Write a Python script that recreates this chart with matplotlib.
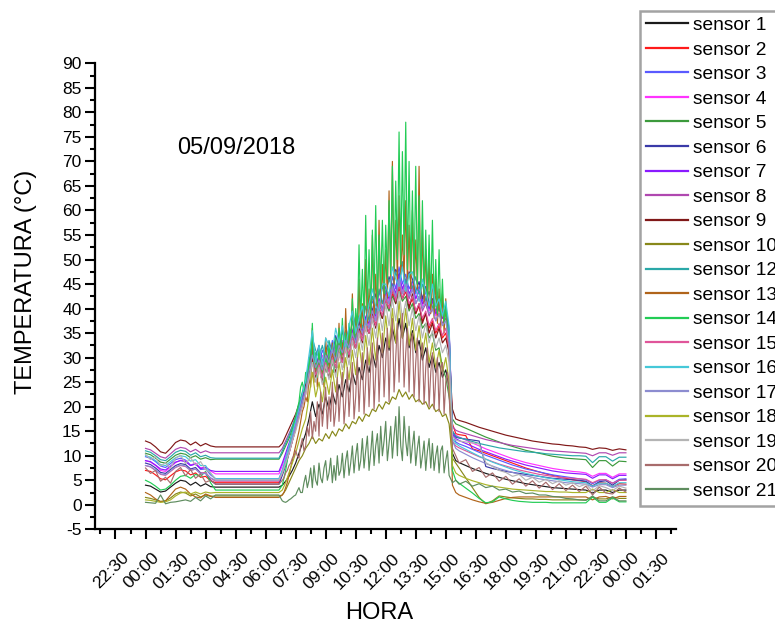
import sys
import matplotlib
matplotlib.use("Agg")
import matplotlib.pyplot as plt
import matplotlib.transforms as mtransforms
from matplotlib.ticker import FixedLocator, MultipleLocator

plt.rcParams['font.family'] = ['Liberation Sans', 'DejaVu Sans']
plt.rcParams['axes.unicode_minus'] = False


def hours(hhmm):
    h, m = hhmm.split(':')
    return int(h) + int(m) / 60.0


def grid(first, last, step_min):
    a = int(round(hours(first) * 60))
    b = int(round(hours(last) * 60))
    return [m / 60.0 for m in range(a, b + 1, step_min)]


# sampling times (hours after 00:00 on 05/09/2018); the logger was off 03:30-06:40
t_night = grid("00:00", "03:30", 15) + [hours("06:40")]
t_eve = [hours("15:20"), hours("15:30")] + grid("15:40", "24:00", 20)
t = t_night + grid("06:50", "15:10", 10) + t_eve          # most sensors
t_fine = t_night + grid("06:50", "15:10", 5) + t_eve      # fast-reacting sensors 13, 14, 20, 21

# temperatures (°C): night | 06:40 | daytime | 15:20-24:00
s1 = [4.0, 3.8, 3.2, 2.6, 2.8, 3.6, 4.4, 5.0, 4.8, 4.0, 4.6, 3.8, 4.3, 3.7, 3.6,
      3.6,
      4.0, 4.8, 5.8, 7.0, 8.5, 10.5, 12.5, 14.5, 17.5, 21,
      18, 20.5, 18.5, 22, 19.5, 23, 20.5, 24.5, 22, 25.5,
      23, 27, 24.5, 28, 25.5, 29.5, 27, 31, 28, 32.5,
      30, 34, 31.5, 36, 33, 38, 34, 37, 32, 35.5,
      31, 33.5, 29.5, 32, 28, 30.5, 27, 29, 26, 27.5,
      24,
      10.5, 9.0, 8.6, 8.0, 7.4, 6.9, 6.4, 6.0, 5.6, 5.2,
      4.9, 4.6, 4.3, 4.1, 3.9, 3.7, 3.5, 3.4, 3.3, 3.2,
      3.1, 3.0, 2.4, 3.0, 3.0, 2.5, 3.0, 3.0]
s2 = [7.0, 6.8, 6.1, 5.3, 5.1, 5.9, 6.7, 7.1, 6.9, 6.1, 6.5, 5.6, 5.8, 4.9, 4.5,
      4.5,
      6.5, 8.5, 10.5, 13, 15.5, 18, 20.5, 23.5, 26.5, 29.5,
      27, 28.5, 27, 29, 27.5, 30, 28, 30.5, 29.5, 31.5,
      30.5, 33, 32, 34.5, 33.5, 36, 35, 37.5, 37, 39.5,
      38, 41, 40, 43, 41.5, 44, 42, 43.5, 40.5, 42,
      39, 40.5, 37.5, 39, 36, 37.5, 35, 36.5, 34, 35,
      31.5,
      16.5, 14.5, 14.3, 14.1, 11.4, 11.0, 10.5, 10.0, 9.5, 9.0,
      8.5, 8.0, 7.5, 7.1, 6.7, 6.3, 6.0, 5.7, 5.4, 5.1,
      4.9, 4.7, 3.9, 4.5, 4.4, 3.7, 4.3, 4.2]
s3 = [9.8, 9.5, 8.8, 7.9, 7.6, 8.4, 9.2, 9.5, 9.1, 8.1, 8.4, 7.2, 7.3, 6.1, 5.3,
      5.3,
      7, 9, 11, 13.5, 16, 18.5, 21.5, 24, 28, 32,
      30.5, 28.5, 31.5, 30, 29, 33.5, 31, 34, 31.5, 35.5,
      33.5, 35, 37.5, 35, 39, 37.5, 40, 41.5, 39.5, 43.5,
      41, 44.5, 42.5, 46.5, 44, 48.5, 45, 47, 44, 45.5,
      43, 44.5, 41.5, 43.5, 40, 42, 39.5, 41, 38.5, 39.5,
      34,
      14.5, 12.8, 12.4, 11.9, 11.3, 10.7, 10.1, 9.6, 9.1, 8.6,
      8.1, 7.7, 7.3, 7.0, 6.7, 6.4, 6.1, 5.9, 5.7, 5.5,
      5.3, 5.1, 4.3, 5.0, 5.1, 4.4, 5.2, 5.3]
s4 = [9.0, 8.7, 8.0, 7.0, 6.8, 7.7, 8.6, 9.1, 8.9, 8.0, 8.5, 7.5, 7.7, 6.9, 6.3,
      6.3,
      8, 10, 12, 14.5, 16.5, 19, 21.5, 24, 27.5, 31,
      29.5, 28, 30.5, 28.5, 31.5, 29.5, 32.5, 30, 33.5, 31.5,
      34.5, 33, 35.5, 37, 35, 38.5, 36.5, 40, 38, 41.5,
      40, 43, 41.5, 45, 43, 46.5, 43.5, 45.5, 42.5, 45,
      42, 44, 40.5, 42.5, 39.5, 41.5, 38.5, 40.5, 38, 39.5,
      36,
      15.0, 14.2, 13.8, 13.2, 12.6, 12.0, 11.4, 10.9, 10.4, 9.9,
      9.4, 9.0, 8.6, 8.3, 8.0, 7.7, 7.4, 7.2, 7.0, 6.8,
      6.7, 6.5, 5.8, 6.4, 6.4, 5.6, 6.3, 6.3]
s5 = [10.5, 10.2, 9.5, 8.7, 8.5, 9.3, 10.1, 10.5, 10.3, 9.6, 10.0, 9.3, 9.6, 9.2, 9.3,
      9.3,
      10.5, 12, 13.5, 15.5, 17.5, 19.5, 22, 24, 26.5, 29,
      27, 28.5, 26.5, 29, 27.5, 30, 28, 31, 29.5, 32,
      30.5, 33.5, 32, 35, 33.5, 36.5, 35, 38, 36.5, 39.5,
      38, 41, 39.5, 42.5, 41, 43.5, 41.5, 42.5, 39.5, 41,
      38, 39, 36, 37, 34, 35, 31.5, 32, 28, 26,
      22,
      17.5, 16.5, 16.2, 15.6, 15.0, 14.4, 13.8, 13.3, 12.8, 12.3,
      11.9, 11.5, 11.1, 10.8, 10.5, 10.2, 9.9, 9.7, 9.5, 9.4,
      9.3, 9.2, 7.6, 9.0, 9.0, 7.9, 8.9, 8.8]
s6 = [8.5, 8.2, 7.5, 6.6, 6.4, 7.2, 8.0, 8.4, 8.2, 7.3, 7.6, 6.5, 6.4, 5.0, 4.2,
      4.2,
      6, 8, 10.5, 13, 15.5, 18.5, 21, 24, 28.5, 33,
      30, 32.5, 29, 31.5, 33, 30.5, 34.5, 32, 35.5, 33,
      36, 35, 38.5, 36.5, 40, 37.5, 41.5, 39.5, 43, 40.5,
      44.5, 43, 46.5, 44, 48, 46.5, 49.5, 44.5, 47.5, 46,
      43.5, 45.5, 42, 44.5, 41, 42, 40.5, 42.5, 39, 40,
      35.5,
      15.0, 13.8, 13.6, 13.4, 13.2, 13.0, 7.8, 7.4, 7.1, 6.8,
      6.6, 6.4, 6.2, 6.0, 5.8, 5.6, 5.4, 5.3, 5.2, 5.1,
      5.0, 4.8, 3.8, 4.7, 4.9, 4.0, 5.0, 5.1]
s7 = [9.0, 8.8, 8.1, 7.3, 7.1, 7.9, 8.7, 9.0, 8.8, 8.0, 8.3, 7.4, 7.6, 7.0, 6.8,
      6.8,
      8.5, 10.5, 12.5, 14.5, 17, 19.5, 22, 24.5, 28, 31.5,
      28, 30.5, 28.5, 31, 29.5, 31.5, 30, 33, 31, 34.5,
      32.5, 35.5, 33.5, 36, 35.5, 38, 37, 39.5, 38.5, 42,
      39.5, 43.5, 42, 45, 43, 47, 44, 46, 43, 44.5,
      42, 43.5, 41, 42, 40, 41.5, 39, 40, 38, 39,
      35.5,
      14.5, 13.5, 13.1, 12.5, 11.9, 11.3, 10.8, 10.3, 9.8, 9.3,
      8.9, 8.5, 8.1, 7.8, 7.5, 7.2, 6.9, 6.7, 6.5, 6.4,
      6.3, 6.2, 5.4, 6.1, 6.1, 5.3, 6.0, 6.0]
s8 = [11.5, 11.2, 10.5, 9.8, 9.5, 10.4, 11.3, 11.7, 11.5, 10.8, 11.3, 10.6, 11.0, 10.6, 10.6,
      10.6,
      11.5, 13, 14.5, 16, 18, 20, 22.5, 24.5, 27, 30.5,
      27.5, 29.5, 27.5, 30, 28.5, 30.5, 29, 32.5, 30.5, 33.5,
      32, 34.5, 33, 36, 34.5, 37.5, 36, 39, 37.5, 41,
      39.5, 42.5, 41, 44.5, 42, 45.5, 43, 45, 42, 44,
      41, 42.5, 39.5, 41, 38.5, 40, 37.5, 39, 37, 38,
      35,
      16.0, 15.2, 14.9, 14.5, 14.1, 13.7, 13.3, 13.0, 12.7, 12.4,
      12.1, 11.9, 11.7, 11.5, 11.3, 11.1, 11.0, 10.9, 10.8, 10.7,
      10.6, 10.5, 10.0, 10.6, 10.6, 10.1, 10.6, 10.6]
s9 = [13.0, 12.6, 11.8, 10.8, 10.5, 11.5, 12.7, 13.2, 13.0, 12.2, 12.8, 12.0, 12.5, 12.0, 11.8,
      11.8,
      12.5, 14, 15.5, 17, 18.5, 20.5, 22.5, 24.5, 27, 30,
      26, 29, 25, 28, 26, 29, 27, 31, 29, 33,
      30, 34, 32, 36, 33, 37, 35, 39, 36, 40,
      38, 42, 40, 44, 41, 45, 42, 44, 40, 43,
      39, 41, 37, 39, 35, 37, 34, 36, 33, 34,
      31,
      19.5, 17.5, 17.2, 16.8, 16.3, 15.8, 15.4, 15.0, 14.6, 14.2,
      13.9, 13.6, 13.3, 13.0, 12.8, 12.6, 12.4, 12.3, 12.1, 12.0,
      11.8, 11.7, 11.3, 11.6, 11.5, 11.1, 11.4, 11.2]
s10 = [1.5, 1.3, 1.0, 0.7, 0.8, 1.4, 2.2, 2.6, 2.4, 1.8, 2.2, 1.6, 2.0, 1.7, 1.8,
       1.8,
       2.0, 3.0, 4.5, 6.0, 7.5, 9.0, 10.0, 11.5, 12.5, 14.0,
       12.5, 13.5, 13.0, 14.5, 13.5, 15.0, 14.0, 15.5, 15.0, 16.5,
       15.5, 17.0, 16.5, 18.0, 17.0, 18.5, 18.0, 19.5, 19.0, 20.5,
       19.5, 21.0, 20.5, 22.0, 21.5, 23.5, 22.0, 23.0, 21.5, 22.5,
       21.0, 21.5, 20.5, 21.0, 19.5, 20.5, 19.0, 19.5, 18.0, 18.5,
       16.5,
       9.5, 8.5, 7.5, 5.5, 3.5, 1.5, 0.2, 0.8, 1.8, 1.6,
       1.4, 1.3, 1.2, 1.2, 1.1, 1.1, 1.0, 1.0, 1.0, 1.0,
       1.0, 1.0, 1.5, 1.2, 1.2, 1.6, 1.3, 1.3]
s12 = [11.0, 10.7, 10.0, 9.2, 9.0, 9.8, 10.7, 11.1, 10.9, 10.1, 10.6, 9.8, 10.1, 9.6, 9.5,
       9.5,
       11, 12.5, 14, 16, 18, 20.5, 23, 25.5, 29, 34,
       31.5, 30, 32.5, 29.5, 33.5, 31, 30, 35, 32.5, 35.5,
       33, 37.5, 34, 38.5, 36, 40.5, 37.5, 42.5, 39, 44,
       41, 43.5, 46, 44, 47.5, 45, 49.5, 45, 47, 44,
       46.5, 43, 45, 41.5, 43.5, 40, 42.5, 39.5, 41, 38.5,
       35,
       15.0, 14.0, 13.7, 13.3, 12.9, 12.5, 12.2, 11.9, 11.6, 11.4,
       11.2, 11.0, 10.8, 10.7, 10.6, 10.4, 10.3, 10.2, 10.1, 10.0,
       10.0, 9.9, 8.6, 9.8, 9.8, 8.9, 9.7, 9.7]
s13 = [2.5, 2.0, 1.2, 0.6, 0.8, 2.0, 3.2, 3.6, 3.2, 2.2, 1.6, 1.4, 2.2, 1.8, 1.5,
       1.5,
       2, 2.5, 3.5, 4.5, 6, 7.5, 9, 10.5, 12, 13.5,
       15, 17, 19, 20, 22, 21, 26, 24, 36, 25,
       30, 24, 32, 26, 28, 24, 34, 27, 30, 26,
       33, 27, 31, 28, 37, 29, 33, 28, 40, 30,
       36, 31, 43, 32, 39, 33, 46, 34, 41, 35,
       50, 36, 44, 37, 55, 38, 47, 39, 58, 40,
       49, 41, 52, 42, 64, 44, 70, 45, 58, 46,
       63, 47, 55, 46, 62, 45, 57, 44, 60, 43,
       54, 44, 69, 42, 56, 41, 52, 40, 50, 39,
       47, 38, 46, 37, 44, 36, 43, 35, 42, 34,
       32,
       4.0, 2.5, 2.0, 1.5, 1.0, 0.6, 0.3, 0.5, 0.9, 1.3,
       1.5, 1.6, 1.6, 1.6, 1.6, 1.6, 1.6, 1.6, 1.6, 1.6,
       1.6, 1.6, 1.0, 1.6, 1.7, 1.2, 1.7, 1.7]
s14 = [5.0, 4.5, 3.8, 3.0, 3.2, 4.0, 5.0, 5.8, 6.0, 5.4, 6.2, 5.8, 6.8, 4.5, 3.0,
       3.0,
       4, 5.5, 7, 9, 11, 13, 15, 16.5, 18, 19.5,
       21, 24, 25, 23, 27, 24, 30, 27, 37, 28,
       31, 26, 32, 27, 29, 25, 31, 27, 33, 28,
       30, 27, 34, 29, 36, 30, 38, 31, 35, 30,
       37, 33, 42, 34, 40, 36, 53, 37, 48, 38,
       59, 40, 52, 39, 56, 42, 61, 41, 55, 44,
       58, 43, 57, 46, 62, 47, 69, 48, 66, 50,
       76, 49, 72, 51, 78, 48, 70, 47, 64, 46,
       69, 45, 63, 44, 62, 43, 56, 42, 55, 41,
       58, 40, 50, 39, 52, 38, 46, 37, 41, 36,
       33,
       7.0, 5.0, 4.4, 3.4, 2.4, 1.3, 0.4, 0.6, 1.6, 1.2,
       0.9, 0.7, 0.6, 0.5, 0.5, 0.5, 0.4, 0.4, 0.4, 0.4,
       0.4, 0.4, 1.6, 0.5, 0.5, 1.4, 0.6, 0.6]
s15 = [8.0, 7.7, 7.0, 6.2, 6.0, 6.8, 7.6, 8.0, 7.8, 7.0, 7.3, 6.4, 6.6, 5.4, 4.8,
       4.8,
       6.5, 8.5, 10.5, 13, 15.5, 18, 20, 22.5, 26, 29,
       26.5, 28.5, 26, 29, 27, 30, 28, 31, 29, 32.5,
       30.5, 34, 32, 35.5, 33.5, 37, 35, 38.5, 36.5, 40.5,
       38.5, 42, 40, 44, 41.5, 45, 42, 44, 41, 42.5,
       39.5, 41, 38, 39.5, 36.5, 38, 35.5, 37, 34.5, 36,
       32,
       13.0, 12.0, 11.6, 11.0, 10.4, 9.8, 9.3, 8.8, 8.3, 7.9,
       7.5, 7.1, 6.8, 6.5, 6.2, 6.0, 5.8, 5.6, 5.5, 5.4,
       5.3, 5.2, 4.5, 5.1, 5.1, 4.4, 5.0, 5.0]
s16 = [10.0, 9.7, 9.0, 8.2, 8.0, 8.8, 9.6, 10.0, 9.8, 8.9, 9.2, 8.0, 8.0, 6.4, 5.3,
       5.3,
       7, 9.5, 12, 14.5, 17, 19.5, 22.5, 25.5, 30.5, 35.5,
       29, 32.5, 28.5, 34, 32.5, 31, 36, 33, 36.5, 32,
       36.5, 39.5, 35, 38, 40.5, 36.5, 41, 44, 40.5, 39.5,
       45, 45, 42.5, 48.5, 46, 44.5, 48.5, 43.5, 47, 47.5,
       44, 41.5, 46, 43.5, 40.5, 45, 40.5, 42, 38.5, 41.5,
       36.5,
       13.5, 12.5, 12.0, 11.3, 10.6, 9.9, 9.3, 8.7, 8.2, 7.7,
       7.2, 6.8, 6.4, 6.1, 5.8, 5.5, 5.3, 5.1, 4.9, 4.7,
       4.6, 4.5, 3.8, 4.4, 4.4, 3.7, 4.5, 4.5]
s17 = [8.0, 7.8, 7.1, 6.3, 6.1, 6.9, 7.7, 8.1, 7.9, 7.0, 7.3, 6.3, 6.4, 5.5, 5.0,
       5.0,
       6.5, 8.5, 11, 13.5, 16, 18.5, 21, 23.5, 27, 30.5,
       28, 29.5, 27.5, 30.5, 29, 31.5, 29.5, 32.5, 31, 33.5,
       32, 35, 33, 36.5, 35, 37.5, 36, 39.5, 37.5, 41.5,
       39.5, 42.5, 41, 44.5, 42.5, 46, 43, 45, 42.5, 44,
       41, 42.5, 40, 41.5, 39, 40, 37.5, 39, 36.5, 37.5,
       33,
       13.0, 11.5, 11.0, 10.3, 9.6, 9.0, 8.4, 7.9, 7.4, 7.0,
       6.6, 6.2, 5.9, 5.6, 5.3, 5.1, 4.9, 4.7, 4.5, 4.4,
       4.3, 4.2, 3.6, 4.1, 4.1, 3.5, 4.0, 4.0]
s18 = [1.0, 0.9, 0.7, 0.5, 0.6, 1.0, 1.8, 2.4, 2.6, 2.2, 2.6, 2.2, 2.6, 2.4, 2.5,
       2.5,
       3, 4.5, 6.5, 8.5, 10.5, 13, 15.5, 17.5, 22, 27,
       22, 25, 21, 26, 22.5, 27.5, 23, 29, 24.5, 30,
       25.5, 31.5, 26.5, 33, 27.5, 34.5, 28.5, 36, 29.5, 37,
       31, 38.5, 32, 40, 33, 41.5, 34, 40, 32.5, 38,
       31.5, 36.5, 30.5, 35, 29, 33, 28, 31.5, 27, 30,
       25,
       8.0, 6.5, 6.0, 5.4, 4.9, 4.5, 4.1, 3.8, 3.6, 3.4,
       3.2, 3.1, 3.0, 2.9, 2.8, 2.7, 2.7, 2.6, 2.6, 2.5,
       2.5, 2.5, 3.2, 2.5, 2.5, 3.1, 2.5, 2.5]
s19 = [10.3, 9.2, 9.8, 7.9, 8.6, 7.4, 9.5, 10.1, 8.4, 9.6, 8.1, 8.8, 7.2, 6.5, 5.1,
       5.1,
       6.5, 8.5, 10.5, 13, 15, 17.5, 20, 22.5, 25.5, 29,
       25, 28, 24.5, 28.5, 25.5, 29.5, 26, 31, 27.5, 32,
       28.5, 33.5, 30, 35, 31.5, 36.5, 32.5, 38, 34, 39.5,
       35.5, 41, 36.5, 42, 37.5, 43.5, 38, 41.5, 36.5, 40,
       35.5, 38.5, 34, 37, 33, 35.5, 32, 34, 31, 32.5,
       29,
       14.0, 13.2, 13.0, 12.8, 12.6, 12.4, 8.6, 7.8, 7.0, 6.6,
       5.8, 6.2, 5.0, 5.6, 4.6, 5.2, 4.3, 4.9, 4.0, 4.5,
       3.7, 4.2, 2.8, 3.9, 3.5, 2.9, 3.8, 3.4]
s20 = [7.5, 6.4, 7.0, 4.8, 5.6, 4.4, 6.8, 7.6, 5.9, 7.2, 5.4, 6.3, 4.6, 5.0, 4.2,
       4.2,
       5, 5.5, 6.5, 7, 8, 8.5, 9.5, 10, 11, 10,
       9.5, 12, 13.5, 11, 12, 16, 14, 19, 13.5, 17,
       15, 21, 14, 23, 16, 20, 24, 15.5, 22, 17,
       25, 16, 19, 26, 17, 23, 27, 16.5, 21, 28,
       18, 24, 29, 17.5, 22, 30, 19, 26, 31, 18.5,
       25, 32, 20, 28, 33, 19.5, 27, 34, 21, 30,
       35, 22, 29, 36, 21, 33, 38, 23, 30, 37,
       25, 34, 39, 24, 31, 36, 23, 33, 35, 22,
       29, 34, 21, 31, 33, 20.5, 28, 32, 20, 27,
       31, 19.5, 26, 30, 19, 28, 29, 18.5, 25, 27,
       22,
       11.5, 10.0, 8.5, 9.2, 6.8, 7.6, 5.6, 6.5, 4.8, 5.8,
       4.2, 5.3, 3.8, 4.9, 3.4, 4.6, 3.1, 4.3, 2.9, 4.0,
       2.7, 3.8, 2.0, 3.6, 2.4, 2.2, 3.4, 2.6]
s21 = [0.5, 0.4, 0.3, 2.0, 0.2, 0.5, 0.6, 0.8, 1.0, 0.7, 1.5, 0.8, 1.8, 1.2, 2.0,
       2.0,
       0.8, 0.6, 0.5, 0.7, 1.0, 1.2, 1.5, 1.8, 2.0, 2.8,
       3.5, 2.5, 2.5, 4.5, 6, 3.5, 5, 7.5, 3.5, 8,
       5, 4, 8.5, 5.5, 4.5, 7.5, 9, 5, 6.5, 9.5,
       4.5, 8, 5, 10, 6, 7, 10.5, 5.5, 9, 11,
       6, 8.5, 12, 6.5, 10, 12.5, 7, 9, 13.5, 7.5,
       11, 14, 7, 10.5, 15, 8, 12, 14.5, 8.5, 16,
       10, 13, 17, 9, 12.5, 16, 9.5, 14, 18, 10,
       20, 12, 9, 18, 13, 10, 16, 8.5, 12, 15,
       8, 11.5, 14, 7.5, 10, 13, 7, 11, 13.5, 7.5,
       12.5, 7, 10, 12, 6.5, 11, 12, 6.5, 9, 11,
       6,
       4.5, 5.0, 4.2, 4.8, 3.8, 4.3, 3.5, 3.8, 3.0, 3.2,
       2.6, 2.8, 2.3, 2.4, 2.0, 2.0, 1.7, 1.6, 1.3, 1.2,
       1.0, 0.9, 1.8, 0.8, 0.8, 1.6, 0.8, 0.8]

series = [s1, s2, s3, s4, s5, s6, s7, s8, s9, s10, s12, s13, s14, s15, s16,
          s17, s18, s19, s20, s21]
times = [t, t, t, t, t, t, t, t, t, t, t, t_fine, t_fine, t, t,
         t, t, t, t_fine, t_fine]
labels = ["sensor 1", "sensor 2", "sensor 3", "sensor 4", "sensor 5", "sensor 6",
          "sensor 7", "sensor 8", "sensor 9", "sensor 10", "sensor 12", "sensor 13",
          "sensor 14", "sensor 15", "sensor 16", "sensor 17", "sensor 18",
          "sensor 19", "sensor 20", "sensor 21"]
colors = ["#1a1a1a", "#ff1a1a", "#5a5aff", "#ff33ff", "#3c9a3c", "#3a3aa8",
          "#8a1aff", "#b048b0", "#801818", "#88881a", "#2aa8a8", "#b0641a",
          "#22cc55", "#e0559a", "#45c8d8", "#8c8cd0", "#aab428", "#b4b4b4",
          "#a86c6c", "#5e8c5e"]

x_ticks = [-1.5 + 1.5 * k for k in range(19)]
x_ticklabels = ["22:30", "00:00", "01:30", "03:00", "04:30", "06:00", "07:30",
                "09:00", "10:30", "12:00", "13:30", "15:00", "16:30", "18:00",
                "19:30", "21:00", "22:30", "00:00", "01:30"]

fig = plt.figure(figsize=(7.75, 6.25), dpi=100)
ax = fig.add_axes([0.1232, 0.1531, 0.749, 0.7456])

for s, tt, lab, c in zip(series, times, labels, colors):
    if len(s) != len(tt):
        print(lab, len(s), "!=", len(tt), file=sys.stderr)
    n = min(len(s), len(tt))
    ax.plot(tt[:n], s[:n], color=c, lw=0.85, label=lab)

ax.set_xlim(-2.5, 26.5)
ax.set_ylim(-5, 90)
for side in ("top", "right"):
    ax.spines[side].set_visible(False)
for side in ("left", "bottom"):
    ax.spines[side].set_linewidth(1.6)

ax.xaxis.set_major_locator(FixedLocator(x_ticks))
ax.xaxis.set_minor_locator(MultipleLocator(0.75))
ax.yaxis.set_major_locator(MultipleLocator(5))
ax.yaxis.set_minor_locator(MultipleLocator(2.5))
ax.tick_params(axis="both", which="major", length=7, width=1.5, direction="out")
ax.tick_params(axis="both", which="minor", length=3.5, width=1.5, direction="out")
ax.tick_params(axis="y", labelsize=12.5, pad=3)
ax.tick_params(axis="x", labelbottom=False)

# slanted hour labels hanging just right of each major tick
label_offset = mtransforms.ScaledTranslation(6 / 100, -21 / 100, fig.dpi_scale_trans)
label_trans = mtransforms.blended_transform_factory(ax.transData, ax.transAxes) + label_offset
for xv, lab in zip(x_ticks, x_ticklabels):
    ax.text(xv, 0, lab, transform=label_trans, rotation=45, ha="right", va="top",
            rotation_mode="anchor", fontsize=12.5, clip_on=False)

ax.set_ylabel("TEMPERATURA (°C)", fontsize=17)
ax.yaxis.set_label_coords(-0.10, 0.53)
ax.set_xlabel("HORA", fontsize=17)
ax.xaxis.set_label_coords(0.488, -0.156)

ax.text(1.575, 72.7, "05/09/2018", fontsize=17, ha="left", va="center")

leg = fig.legend(loc="upper left", bbox_to_anchor=(640 / 775, 1 - 11 / 625),
                 bbox_transform=fig.transFigure, fontsize=13.8, frameon=True,
                 fancybox=False, borderaxespad=0, borderpad=0.3,
                 handlelength=2.2, handletextpad=0.28, labelspacing=0.37)
leg.get_frame().set_edgecolor("#8c8c8c")
leg.get_frame().set_linewidth(1.8)
for ln in leg.get_lines():
    ln.set_linewidth(1.6)

fig.savefig("out.png", dpi=100)
